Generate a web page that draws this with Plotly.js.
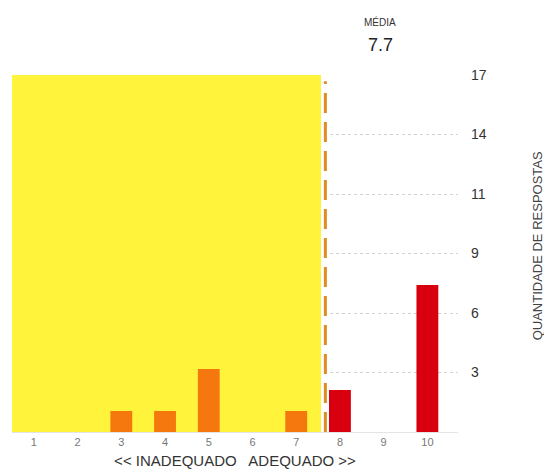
<!DOCTYPE html>
<html>
<head>
<meta charset="utf-8">
<script src="https://cdn.plot.ly/plotly-3.0.1.min.js"></script>
<style>html,body{margin:0;padding:0;background:#fff;}#chart{width:544px;height:475px;}</style>
</head>
<body>
<div id="chart"></div>
<script>
// Data
const categories = [1, 2, 3, 4, 5, 6, 7, 8, 9, 10];
const counts = [0, 0, 1, 1, 3, 0, 1, 2, 0, 7];
const yMax = 17;
const yTickLabels = ['3', '6', '9', '11', '14', '17'];
const xTitle = '<< INADEQUADO   ADEQUADO >>';
const yTitle = 'QUANTIDADE DE RESPOSTAS';
const meanLabel = 'MÉDIA';

// mean of the scores
let total = 0, n = 0;
categories.forEach((c, i) => { total += c * counts[i]; n += counts[i]; });
const mean = total / n;

const colors = categories.map(c => c < mean ? '#f5780f' : '#d8000e');
const yTickVals = yTickLabels.map((_, i) => (i + 1) * yMax / yTickLabels.length);

const font = 'Liberation Sans, Arial, sans-serif';

const trace = {
  type: 'bar',
  x: categories,
  y: counts,
  marker: {color: colors, line: {width: 0}},
  width: 0.5,
  hoverinfo: 'x+y'
};

const layout = {
  width: 544, height: 475,
  margin: {l: 12, r: 86, t: 75, b: 43},
  paper_bgcolor: '#fff', plot_bgcolor: '#fff',
  showlegend: false,
  font: {family: font, color: '#333'},
  xaxis: {
    range: [0.5, 10.7],
    tickvals: categories,
    ticktext: categories.map(String),
    tickfont: {size: 11, color: '#777'},
    ticks: '', ticklen: 0,
    showgrid: false, zeroline: false,
    showline: true, linecolor: '#e4e4e4', linewidth: 1,
    title: {text: xTitle, font: {size: 15, color: '#333'}, standoff: 8},
    fixedrange: true
  },
  yaxis: {
    side: 'right',
    range: [0, yMax],
    tickvals: yTickVals,
    ticktext: yTickLabels,
    tickfont: {size: 14, color: '#333'},
    ticks: '', ticklabelstandoff: 12,
    showgrid: true, gridcolor: '#d2d2d2', griddash: 'dot', gridwidth: 1,
    zeroline: false, showline: false,
    fixedrange: true
  },
  shapes: [
    {type: 'rect', xref: 'x', yref: 'y', x0: 0.5, x1: mean - 0.1, y0: 0, y1: yMax,
     fillcolor: '#fff33c', line: {width: 0}, layer: 'between'},
    {type: 'line', xref: 'x', yref: 'y', x0: mean, x1: mean, y0: 0, y1: yMax - 0.3,
     line: {color: '#e08c22', width: 3, dash: '20px,9px'}, layer: 'above'}
  ],
  annotations: [
    {xref: 'paper', yref: 'paper', x: 0.826, y: 1, yshift: 53, xanchor: 'center', yanchor: 'middle',
     text: meanLabel, showarrow: false, font: {size: 10, color: '#333'}},
    {xref: 'paper', yref: 'paper', x: 0.826, y: 1, yshift: 30, xanchor: 'center', yanchor: 'middle',
     text: mean.toFixed(1), showarrow: false, font: {size: 18, color: '#222'}},
    {xref: 'paper', yref: 'paper', x: 1, xshift: 79, y: 0.52, xanchor: 'center', yanchor: 'middle',
     text: yTitle, textangle: -90, showarrow: false, font: {size: 13, color: '#444'}}
  ]
};

Plotly.newPlot('chart', [trace], layout, {displayModeBar: false, staticPlot: true});
</script>
</body>
</html>
